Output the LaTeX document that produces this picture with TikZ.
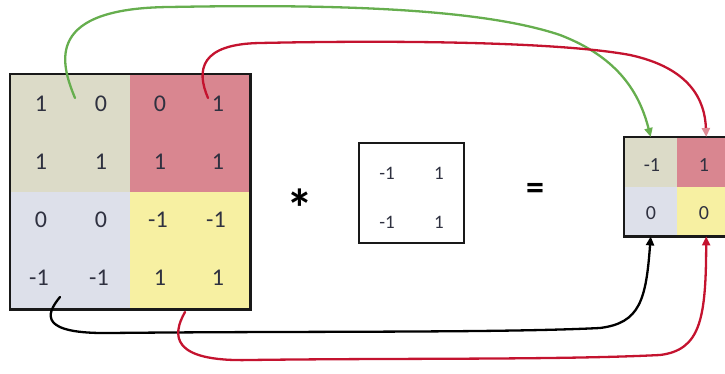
\documentclass[tikz,border=0pt]{standalone}
\usepackage{fontspec}
\setmainfont{Carlito}
\usetikzlibrary{arrows.meta}
\definecolor{qbeige}{HTML}{DCDBC8}
\definecolor{qred}{HTML}{D98690}
\definecolor{qblue}{HTML}{DDE0EA}
\definecolor{qyellow}{HTML}{F7F0A2}
\definecolor{txt}{HTML}{2F3140}
\definecolor{lgreen}{HTML}{66AE4E}
\definecolor{lred}{HTML}{C4132F}
\definecolor{lpink}{HTML}{E08A95}
\tikzset{
  quad/.style={draw=none,inner sep=0pt,minimum width=120pt,minimum height=117.5pt,anchor=north west},
  rcell/.style={draw=none,inner sep=0pt,minimum height=49.5pt,anchor=north west},
  big/.style={text=txt,font=\fontsize{24}{24}\selectfont},
  small/.style={text=txt,font=\fontsize{19}{19}\selectfont},
  res/.style={text=txt,font=\fontsize{20}{20}\selectfont},
  frame/.style={draw=black!90,line width=2.4pt},
  conn/.style={line width=2.3pt,line cap=round,-{Triangle[length=9pt,width=8pt]}},
}
\begin{document}
\begin{tikzpicture}[x=1pt,y=-1pt]
\useasboundingbox (0,0) rectangle (725,374);
% big matrix quadrants
\node[quad,fill=qbeige] (q11) at (10,74) {};
\node[quad,fill=qred] (q12) at (130,74) {};
\node[quad,fill=qblue] (q21) at (10,191.5) {};
\node[quad,fill=qyellow] (q22) at (130,191.5) {};
\draw[frame] (q11.north west) rectangle (q22.south east);
% big digits
\node[big] (a11) at (41,104) {1};
\node[big] (a12) at (101,104) {0};
\node[big] (a13) at (160,104) {0};
\node[big] (a14) at (218,104) {1};
\node[big] (a21) at (41,162) {1};
\node[big] (a22) at (101,162) {1};
\node[big] (a23) at (160,162) {1};
\node[big] (a24) at (218,162) {1};
\node[big] (a31) at (41,220) {0};
\node[big] (a32) at (101,220) {0};
\node[big] (a33) at (158,220) {-1};
\node[big] (a34) at (216,220) {-1};
\node[big] (a41) at (39,278) {-1};
\node[big] (a42) at (99,278) {-1};
\node[big] (a43) at (160,278) {1};
\node[big] (a44) at (218,278) {1};
% operator
\node[font=\bfseries\fontsize{54}{54}\selectfont] (star) at (300,208) {*};
% kernel
\node[draw=black!90,line width=2pt,minimum width=105pt,minimum height=100pt,inner sep=0pt] (kern) at (411.5,193) {};
\node[small] (k11) at (387,173) {-1};
\node[small] (k12) at (439,173) {1};
\node[small] (k21) at (387,222) {-1};
\node[small] (k22) at (439,222) {1};
% equals
\node[font=\bfseries\fontsize{36}{36}\selectfont] (eq) at (535,191) {=};
% result
\node[rcell,fill=qbeige,minimum width=53pt] (r11) at (624,137) {};
\node[rcell,fill=qred,minimum width=58pt] (r12) at (677,137) {};
\node[rcell,fill=qblue,minimum width=53pt] (r21) at (624,186.5) {};
\node[rcell,fill=qyellow,minimum width=58pt] (r22) at (677,186.5) {};
\draw[frame] (r11.north west) rectangle (r22.south east);
\node[res] (b11) at (652,165) {-1};
\node[res] (b12) at (704,165) {1};
\node[res] (b21) at (651,213) {0};
\node[res] (b22) at (704,213) {0};
% connectors
\coordinate (gs) at (75,98);
\coordinate (rs) at (208,98);
\coordinate (ks) at (60,297);
\coordinate (ys) at (185,312);
\draw[conn,lgreen] (gs) .. controls (60,62) and (45,8) .. (170,7)
  .. controls (330,4) and (480,8) .. (560,35)
  .. controls (620,58) and (640,95) .. (r11.north);
\draw[conn,lred,-{Triangle[length=9pt,width=8pt,fill=lpink,color=lpink]}] (rs) .. controls (196,70) and (200,44) .. (260,43)
  .. controls (400,40) and (560,42) .. (630,55)
  .. controls (690,68) and (705,100) .. (r12.north);
\draw[conn,black] (ks) .. controls (45,315) and (40,334) .. (110,333)
  .. controls (300,331) and (500,333) .. (600,328)
  .. controls (640,323) and (646,300) .. (r21.south);
\draw[conn,lred] (ys) .. controls (172,335) and (170,362) .. (250,360)
  .. controls (400,358) and (560,360) .. (660,355)
  .. controls (700,350) and (706,320) .. (r22.south);
\end{tikzpicture}
\end{document}
